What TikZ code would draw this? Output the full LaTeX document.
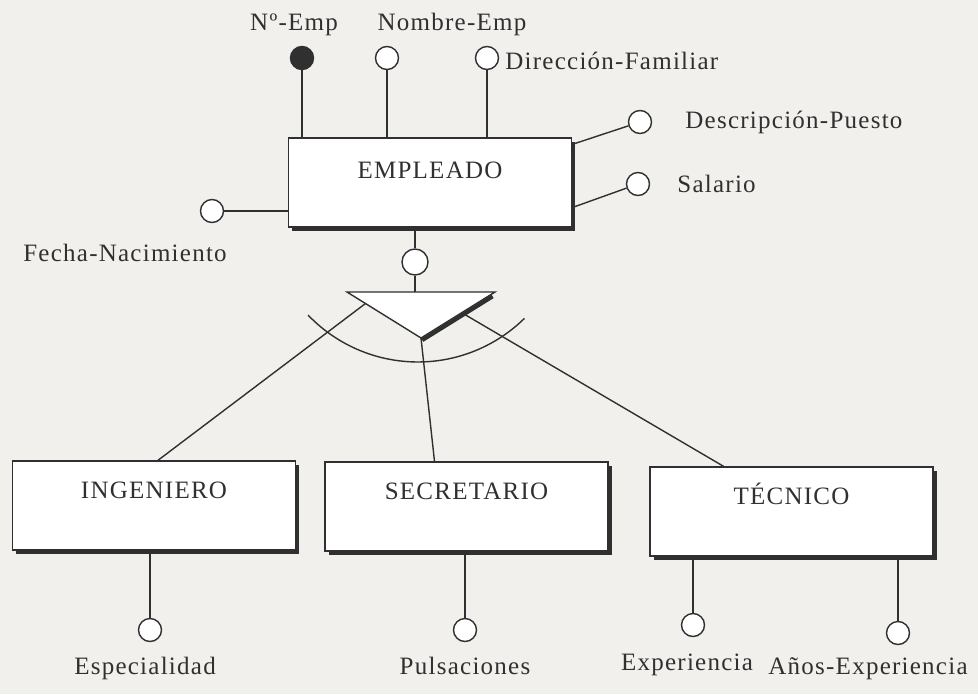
\documentclass[tikz,border=0pt]{standalone}
\usepackage{fontspec}
\setmainfont{Liberation Serif}[LetterSpace=5]
\usetikzlibrary{positioning,shadows,calc}
\definecolor{tinta}{RGB}{48,48,48}
\definecolor{papel}{RGB}{241,240,237}
\tikzset{
    entidad/.style={rectangle, draw=tinta, fill=white, text=tinta, line width=1.4pt, minimum width=283pt, minimum height=89pt, inner sep=0pt, text height=15pt, text depth=30pt, drop shadow={shadow xshift=3.5pt, shadow yshift=-3.5pt, opacity=1, fill=tinta}},
    atrib/.style={circle, draw=tinta, fill=white, line width=1.4pt, minimum size=23pt, inner sep=0pt},
    clave/.style={atrib, fill=tinta},
    etiq/.style={inner sep=0pt, text=tinta},
    linea/.style={draw=tinta, line width=1.4pt}
}

\begin{document}
\begin{tikzpicture}[x=1pt, y=-1pt, font=\fontsize{25}{29}\selectfont]
    \fill[papel] (0,0) rectangle (978,694);
    \useasboundingbox (0,0) rectangle (978,694);

    % entidades
    \node[entidad, text depth=23pt] (empleado) at (430,182.5) {EMPLEADO};
    \node[entidad] (ingeniero) at (154,505.5) {INGENIERO};
    \node[entidad] (secretario) at (466.5,506.5) {SECRETARIO};
    \node[entidad] (tecnico) at (791.5,511.5) {TÉCNICO};

    % atributos de EMPLEADO
    \node[clave] (noemp) at (302,58) {};
    \node[atrib] (nombre) at (387,58) {};
    \node[atrib] (direccion) at (487,58) {};
    \node[atrib] (descripcion) at (640,122) {};
    \node[atrib] (salario) at (638,184) {};
    \node[atrib] (fecha) at (212,211) {};

    \draw[linea] (noemp) -- (noemp |- empleado.north);
    \draw[linea] (nombre) -- (nombre |- empleado.north);
    \draw[linea] (direccion) -- (direccion |- empleado.north);
    \draw[linea] (empleado.15) -- (descripcion);
    \draw[linea] (empleado.-10) -- (salario);
    \draw[linea] (fecha) -- (fecha -| empleado.west);

    \node[etiq, above=10pt of noemp, xshift=-8pt] (lnoemp) {Nº-Emp};
    \node[etiq, above=10pt of nombre, xshift=65pt] (lnombre) {Nombre-Emp};
    \node[etiq, right=6pt of direccion, yshift=-3pt] (ldireccion) {Dirección-Familiar};
    \node[etiq, right=33pt of descripcion] (ldescripcion) {Descripción-Puesto};
    \node[etiq, right=27pt of salario] (lsalario) {Salario};
    \node[etiq, below=21pt of fecha, xshift=-87pt] (lfecha) {Fecha-Nacimiento};

    % especializacion
    \node[atrib, minimum size=26pt] (isa) at (415,262) {};
    \draw[linea] (isa |- empleado.south) -- (isa);
    \coordinate (tri1) at (347,292);
    \coordinate (tri2) at (495,292);
    \coordinate (tri3) at (421,338);
    \draw[linea] (isa) -- (isa |- tri1);
    \draw[linea] ($(tri1)!0.25!(tri3)$) -- ([xshift=4pt]ingeniero.north);
    \draw[linea] (tri3) -- ([xshift=-32pt]secretario.north);
    \draw[linea] ($(tri2)!0.45!(tri3)$) -- ([xshift=-68pt]tecnico.north);
    \draw[linea, fill=white] (tri1) -- (tri2) -- (tri3) -- cycle;
    \draw[tinta, line width=4pt] ([xshift=-2.4pt,yshift=-4.4pt]tri2) -- ([xshift=1.3pt,yshift=-2.1pt]tri3);
    \coordinate (arco) at (308,315);
    \draw[linea] (arco) arc[start angle=136.3, end angle=45.5, radius=152];

    % atributos de las subclases
    \node[atrib] (especialidad) at (150,630) {};
    \node[atrib] (pulsaciones) at (465,630) {};
    \node[atrib] (experiencia) at (693,625) {};
    \node[atrib] (anos) at (898,633) {};

    \draw[linea] (especialidad |- ingeniero.south) -- (especialidad);
    \draw[linea] (pulsaciones |- secretario.south) -- (pulsaciones);
    \draw[linea] (experiencia |- tecnico.south) -- (experiencia);
    \draw[linea] (anos |- tecnico.south) -- (anos);

    \node[etiq, below=15pt of especialidad, xshift=-5pt] (lespecialidad) {Especialidad};
    \node[etiq, below=15pt of pulsaciones] (lpulsaciones) {Pulsaciones};
    \node[etiq, below=17pt of experiencia, xshift=-6pt] (lexperiencia) {Experiencia};
    \node[etiq, below=12pt of anos, xshift=-30pt] (lanos) {Años-Experiencia};
\end{tikzpicture}
\end{document}
